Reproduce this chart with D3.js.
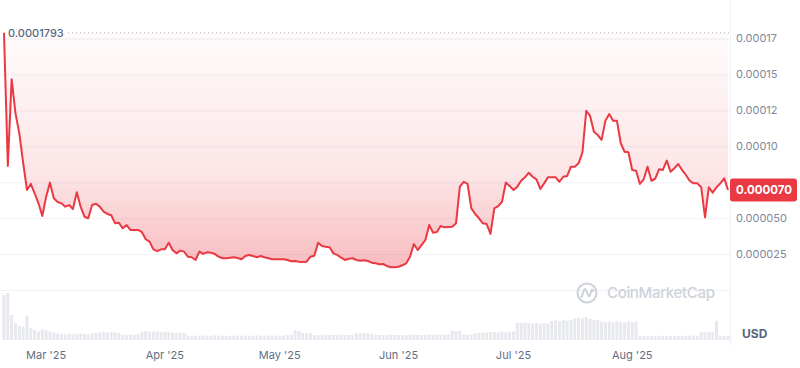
<!DOCTYPE html>
<html>
<head>
<meta charset="utf-8">
<script src="https://cdn.jsdelivr.net/npm/d3@7"></script>
<style>
  html, body { margin: 0; padding: 0; background: #fff; }
  svg { display: block; font-family: Inter, "Noto Sans", sans-serif; }
</style>
</head>
<body>
<div id="chart"></div>
<script>
'use strict';

// first and last day of the daily series
const startDate = new Date(2025, 1, 18);
const endDate = new Date(2025, 7, 26);

// daily close price, in millionths of a USD (1e-6)
const priceMicro = [
  179.3, 86.7, 147.0, 123.3, 109.4, 88.8, 70.0, 74.2, 67.7, 60.7,
  51.9, 65.3, 75.1, 64.2, 61.6, 60.7, 58.4, 59.5, 56.8, 68.4,
  58.4, 51.4, 50.3, 59.5, 60.4, 58.4, 54.9, 53.3, 52.4, 46.8,
  47.2, 43.3, 45.6, 42.2, 42.2, 42.2, 40.6, 35.7, 34.0, 28.7,
  27.5, 28.7, 28.7, 33.3, 28.2, 25.9, 27.8, 27.1, 23.6, 23.2,
  21.3, 27.1, 25.5, 26.6, 26.4, 25.5, 23.6, 22.5, 22.5, 22.9,
  23.2, 22.7, 21.8, 24.1, 24.8, 24.1, 23.2, 24.1, 23.2, 22.5,
  21.8, 21.8, 21.8, 21.8, 21.3, 20.4, 20.6, 20.1, 19.9, 20.1,
  23.6, 24.3, 33.3, 31.0, 30.5, 30.1, 25.9, 24.8, 22.9, 21.3,
  22.2, 22.5, 21.3, 20.8, 21.1, 20.6, 19.4, 19.0, 18.3, 18.5,
  17.1, 16.2, 16.2, 16.6, 17.6, 19.0, 23.6, 32.4, 28.2, 31.7,
  35.2, 45.6, 40.3, 40.8, 44.9, 44.0, 44.2, 44.4, 46.8, 72.3,
  75.7, 74.2, 57.2, 53.3, 50.3, 46.8, 46.3, 39.4, 57.2, 58.8,
  61.8, 75.1, 72.8, 70.0, 72.3, 76.4, 78.8, 82.0, 79.2, 77.4,
  70.7, 74.6, 78.8, 78.8, 78.8, 75.7, 79.2, 79.7, 86.2, 86.2,
  88.5, 96.1, 125.1, 121.5, 110.5, 108.2, 104.8, 118.2, 122.8, 118.2,
  118.2, 102.5, 96.6, 96.2, 83.9, 83.4, 74.2, 77.4, 86.2, 76.4,
  77.8, 84.4, 83.9, 90.4, 82.7, 85.1, 88.1, 83.9, 80.4, 76.4,
  74.6, 74.6, 71.9, 51.0, 71.9, 68.1, 71.9, 74.6, 78.1, 70.0
];

// daily traded volume (relative units)
const volume = [
  45, 47, 25, 16.7, 14, 13.3, 24, 11.7, 10, 8.3, 10.7, 10, 8.3, 7.7, 6.7,
  5.8, 5.5, 6.2, 5.6, 5.9, 6.4, 6.0, 5.7, 6.6, 7.0,
  7.7, 7.9, 7.4, 8.0, 7.6, 7.2,
  5.2, 4.8, 5.4, 5.0, 5.6,
  8.4, 8.8, 8.1, 8.6, 8.3, 7.9, 8.5, 8.0,
  7.4, 7.1, 7.5, 6.8,
  4.6, 4.2, 4.4, 4.0, 4.5, 4.3, 4.1, 4.6, 4.2, 4.4, 4.0, 4.3, 4.5, 4.1,
  4.2, 4.4, 4.0, 4.3, 4.6, 4.2, 4.1, 4.5, 4.3, 4.4, 4.0, 4.6, 4.8, 5.2,
  9.6, 9.0,
  6.9, 6.5, 6.8,
  5.1, 4.8, 5.3, 4.9, 5.0, 5.2, 4.7, 5.4, 5.0, 4.9, 5.3,
  6.8, 6.5, 7.0, 6.6, 6.4,
  5.2, 4.9, 5.1, 4.8, 5.3, 5.0, 4.9,
  5.1, 4.8, 5.3, 5.0, 5.2, 4.9, 5.4, 5.6, 5.1, 5.3, 5.0, 5.5, 5.8,
  9.4, 8.8, 9.1,
  5.4, 5.0, 5.6,
  6.8, 7.2, 7.6, 7.4, 8.0, 7.8, 7.5, 8.2, 7.9, 8.4, 8.6,
  17.2, 16.8, 17.5, 16.9,
  16.4, 17.0, 16.2, 16.8, 16.5,
  19.0, 19.6, 18.8, 19.8, 19.2, 20.1,
  21.5, 22.4, 21.8, 22.6, 21.2,
  20.2, 19.6,
  18.4, 17.8, 18.6, 18.1, 18.9, 18.2, 17.6, 18.5, 18.0, 18.7,
  4.3, 4.0, 4.2, 3.9, 4.1, 4.4, 4.0, 3.8, 4.2, 4.1, 3.9, 4.3, 4.0, 4.2, 4.6, 4.4,
  8.2, 7.8, 8.4, 7.6,
  19.2,
  4.3, 4.0, 4.1
];

// right axis ticks and their labels as shown (0.000075 sits under the price tag)
const yTicks = [0, 0.000025, 0.00005, 0.000075, 0.0001, 0.000125, 0.00015, 0.000175];
const yTickLabels = ["", "0.000025", "0.000050", "", "0.00010", "0.00012", "0.00015", "0.00017"];

// month ticks on the time axis
const xTicks = [new Date(2025, 2, 1), new Date(2025, 3, 1), new Date(2025, 4, 1),
                new Date(2025, 5, 1), new Date(2025, 6, 1), new Date(2025, 7, 1)];

const openPrice = 0.0001793;
const openLabel = "0.0001793";
const lastLabel = "0.000070";

const red = "#ea3943";
const W = 800, H = 368;
const plotRight = 730;

// build rows
const data = priceMicro.map(function(p, i) {
  return { date: d3.timeDay.offset(startDate, i), price: p * 1e-6, vol: volume[i] };
});

const svg = d3.select('#chart').append('svg')
  .attr('width', W)
  .attr('height', H);

const x = d3.scaleTime().domain([startDate, endDate]).range([4, 728]);
const y = d3.scaleLinear().domain([0, 0.000175]).range([290.6, 39]);
const yVol = d3.scaleLinear().domain([0, 47]).range([340, 293]);

// gradient for the area between the open price and the line
const defs = svg.append('defs');
const grad = defs.append('linearGradient')
  .attr('id', 'downFill')
  .attr('gradientUnits', 'userSpaceOnUse')
  .attr('x1', 0).attr('x2', 0)
  .attr('y1', y(openPrice)).attr('y2', 268);
grad.append('stop').attr('offset', 0).attr('stop-color', red).attr('stop-opacity', 0.02);
grad.append('stop').attr('offset', 0.6).attr('stop-color', red).attr('stop-opacity', 0.13);
grad.append('stop').attr('offset', 1).attr('stop-color', red).attr('stop-opacity', 0.34);

// horizontal grid
svg.append('g')
  .selectAll('line')
  .data(yTicks)
  .join('line')
  .attr('x1', 0).attr('x2', plotRight)
  .attr('y1', d => y(d)).attr('y2', d => y(d))
  .attr('stroke', '#eff1f4')
  .attr('stroke-width', 1);

// separator of the price scale
svg.append('line')
  .attr('x1', plotRight + 0.5).attr('x2', plotRight + 0.5)
  .attr('y1', 0).attr('y2', 346)
  .attr('stroke', '#eff1f4');

// volume bars
svg.append('g')
  .selectAll('rect')
  .data(data)
  .join('rect')
  .attr('x', d => x(d.date) - 1.5)
  .attr('width', 3)
  .attr('y', d => yVol(d.vol))
  .attr('height', d => yVol(0) - yVol(d.vol))
  .attr('fill', '#e7e9ee');

// watermark
const wm = svg.append('g').attr('transform', 'translate(587,293)');
wm.append('circle').attr('r', 9.5).attr('fill', 'none')
  .attr('stroke', '#cdd2da').attr('stroke-width', 2);
wm.append('path')
  .attr('d', 'M-5.5,4 L-3,-3 Q-2,-5 -1,-3 L1,2 Q2,4 3,2 L4.5,-2.5 Q5.5,-4 6.5,-2')
  .attr('fill', 'none').attr('stroke', '#cdd2da').attr('stroke-width', 2)
  .attr('stroke-linecap', 'round').attr('stroke-linejoin', 'round');
svg.append('text')
  .attr('x', 607).attr('y', 294)
  .attr('dominant-baseline', 'middle')
  .attr('font-size', 15).attr('font-weight', 500)
  .attr('textLength', 108)
  .attr('fill', '#cdd2da')
  .text('CoinMarketCap');

// filled area between open price and line
const area = d3.area()
  .x(d => x(d.date))
  .y0(y(openPrice))
  .y1(d => y(d.price));
svg.append('path')
  .datum(data)
  .attr('d', area)
  .attr('fill', 'url(#downFill)');

// dotted open price line
svg.append('line')
  .attr('x1', 68).attr('x2', plotRight)
  .attr('y1', y(openPrice)).attr('y2', y(openPrice))
  .attr('stroke', '#a6adbb')
  .attr('stroke-width', 1)
  .attr('stroke-dasharray', '1,3');

svg.append('text')
  .attr('x', 8).attr('y', y(openPrice) + 1)
  .attr('dominant-baseline', 'middle')
  .attr('font-size', 11).attr('font-weight', 500)
  .attr('fill', '#58667e')
  .text(openLabel);

// price line
const line = d3.line()
  .x(d => x(d.date))
  .y(d => y(d.price));
svg.append('path')
  .datum(data)
  .attr('d', line)
  .attr('fill', 'none')
  .attr('stroke', red)
  .attr('stroke-width', 2)
  .attr('stroke-linejoin', 'round');

// right axis labels
svg.append('g')
  .selectAll('text')
  .data(yTicks)
  .join('text')
  .attr('x', 736)
  .attr('y', d => y(d))
  .attr('dominant-baseline', 'middle')
  .attr('font-size', 11)
  .attr('fill', '#7e889a')
  .text((d, i) => yTickLabels[i]);

// current price tag
const last = data[data.length - 1];
svg.append('rect')
  .attr('x', plotRight).attr('y', y(last.price) - 11.5)
  .attr('width', 67).attr('height', 23)
  .attr('rx', 3)
  .attr('fill', red);
svg.append('text')
  .attr('x', 736).attr('y', y(last.price) + 0.5)
  .attr('dominant-baseline', 'middle')
  .attr('font-size', 11.5).attr('font-weight', 700)
  .attr('fill', '#fff')
  .text(lastLabel);

// time axis
const fmt = d3.timeFormat("%b '%y");
svg.append('g')
  .selectAll('text')
  .data(xTicks)
  .join('text')
  .attr('x', d => x(d))
  .attr('y', 356)
  .attr('text-anchor', 'middle')
  .attr('dominant-baseline', 'middle')
  .attr('font-size', 11)
  .attr('fill', '#616e85')
  .text(d => fmt(d));

svg.append('text')
  .attr('x', 742).attr('y', 335)
  .attr('dominant-baseline', 'middle')
  .attr('font-size', 12).attr('font-weight', 700)
  .attr('fill', '#58667e')
  .text('USD');
</script>
</body>
</html>
